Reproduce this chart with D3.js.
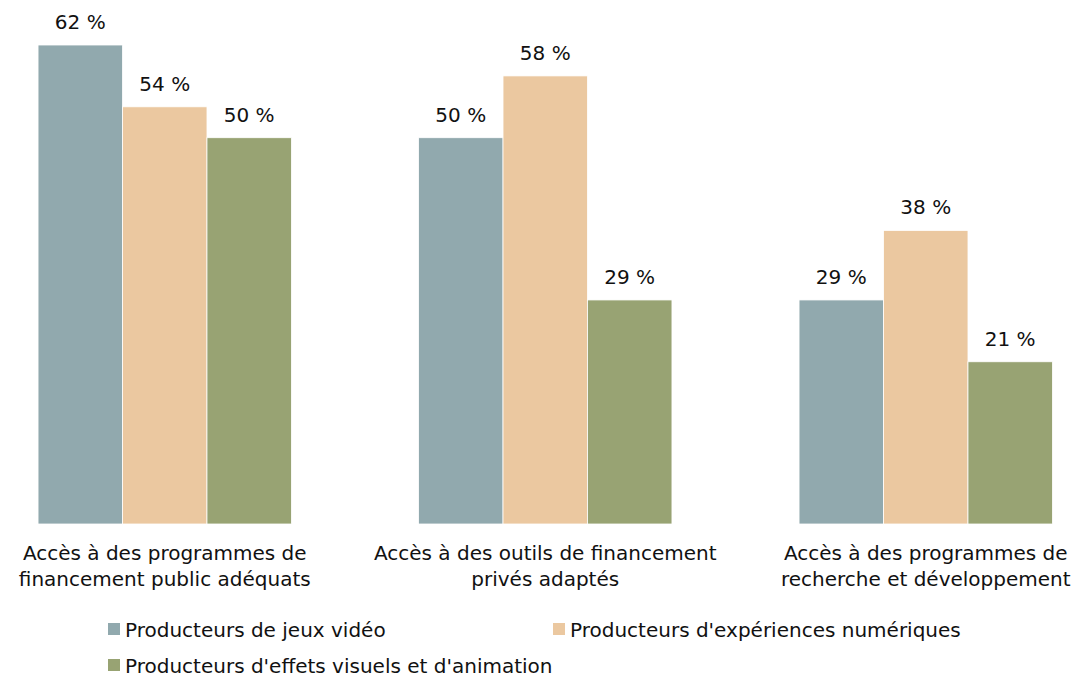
<!DOCTYPE html>
<html>
<head>
<meta charset="utf-8">
<script src="https://cdn.jsdelivr.net/npm/d3@7"></script>
<style>
  html, body { margin: 0; padding: 0; background: #ffffff; }
  svg { display: block; }
  text { font-family: "Century Gothic", "DejaVu Sans", sans-serif; fill: #111; }
</style>
</head>
<body>
<svg id="chart" width="1074" height="679"></svg>
<script>
// Categories (two-line labels) and series
const categories = [
  ["Accès à des programmes de", "financement public adéquats"],
  ["Accès à des outils de financement", "privés adaptés"],
  ["Accès à des programmes de", "recherche et développement"]
];
const seriesNames = [
  "Producteurs de jeux vidéo",
  "Producteurs d'expériences numériques",
  "Producteurs d'effets visuels et d'animation"
];
const jeuxVideo = [62, 50, 29];
const experiencesNumeriques = [54, 58, 38];
const effetsVisuels = [50, 29, 21];
const colors = ["#91a9ae", "#ebc8a0", "#98a373"];

const seriesValues = [jeuxVideo, experiencesNumeriques, effetsVisuels];
const catKeys = categories.map(c => c.join(" "));

const svg = d3.select("#chart");
const plotBottom = 524;
const plotTop = 45;

const x0 = d3.scaleBand()
  .domain(catKeys)
  .range([-25.5, 1116])
  .paddingInner(0.334)
  .paddingOuter(0.167);

const x1 = d3.scaleBand()
  .domain(d3.range(seriesNames.length))
  .range([0, x0.bandwidth()]);

const y = d3.scaleLinear()
  .domain([0, 62])
  .range([plotBottom, plotTop]);

const fontSize = 20;

catKeys.forEach((key, ci) => {
  const g = svg.append("g").attr("transform", `translate(${x0(key)},0)`);
  seriesValues.forEach((vals, si) => {
    const v = vals[ci];
    g.append("rect")
      .attr("x", x1(si))
      .attr("y", y(v))
      .attr("width", x1.bandwidth())
      .attr("height", y(0) - y(v))
      .attr("fill", colors[si])
      .attr("stroke", "#ffffff")
      .attr("stroke-width", 0.8);
    g.append("text")
      .attr("x", x1(si) + x1.bandwidth() / 2)
      .attr("y", y(v) - 16)
      .attr("text-anchor", "middle")
      .attr("font-size", fontSize)
      .text(`${v} %`);
  });
  const lbl = g.append("text")
    .attr("text-anchor", "middle")
    .attr("font-size", fontSize);
  categories[ci].forEach((line, li) => {
    lbl.append("tspan")
      .attr("x", x0.bandwidth() / 2)
      .attr("y", 560 + li * 26)
      .text(line);
  });
});

// Legend
const legendPos = [[108, 637], [553, 637], [108, 673]];
seriesNames.forEach((name, i) => {
  const [lx, ly] = legendPos[i];
  svg.append("rect")
    .attr("x", lx).attr("y", ly - 14)
    .attr("width", 12).attr("height", 12)
    .attr("fill", colors[i]);
  svg.append("text")
    .attr("x", lx + 17).attr("y", ly)
    .attr("font-size", fontSize)
    .text(name);
});
</script>
</body>
</html>
